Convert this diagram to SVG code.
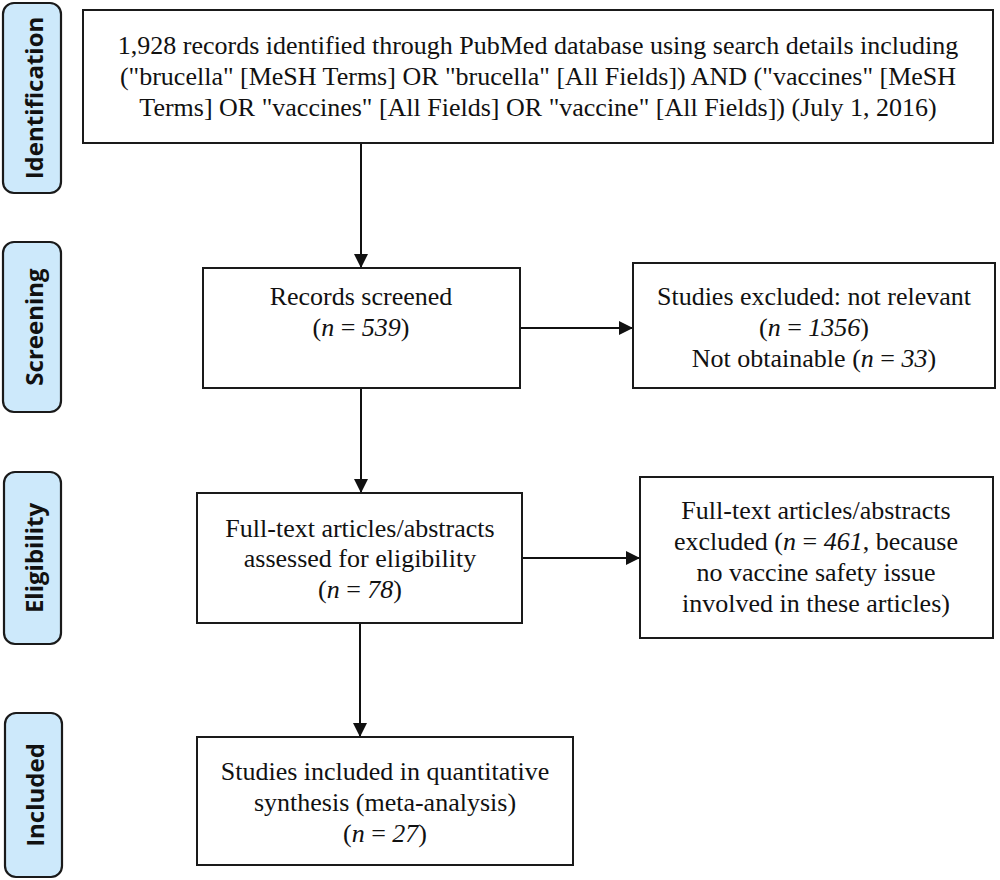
<svg xmlns="http://www.w3.org/2000/svg" width="1000" height="880" viewBox="0 0 1000 880">
<style>
.stage rect{fill:#cde9fb;stroke:#1a1a1a;stroke-width:2.2}
.stage text{font-family:"Open Sans","DejaVu Sans",sans-serif;font-weight:bold;font-size:24px;fill:#111;text-anchor:middle}
.box rect{fill:#fff;stroke:#1a1a1a;stroke-width:2}
.box text{font-family:"Liberation Serif","Times New Roman",serif;font-size:26px;fill:#111;text-anchor:middle}
.i{font-style:italic}
.conn line{stroke:#111;stroke-width:2;fill:none}
</style>
<defs>
<marker id="ah" viewBox="0 0 14 14" refX="14" refY="7" markerWidth="14" markerHeight="14" markerUnits="userSpaceOnUse" orient="auto">
<path d="M0,0 L14,7 L0,14 Z" fill="#111"/>
</marker>
</defs>
<rect width="1000" height="880" fill="#fff"/>

<g id="stage-identification" class="stage">
<rect x="3" y="3" width="58" height="190" rx="11"/>
<text transform="translate(43,98) rotate(-90)">Identification</text>
</g>
<g id="stage-screening" class="stage">
<rect x="3" y="242" width="58" height="170" rx="11"/>
<text transform="translate(43,327) rotate(-90)">Screening</text>
</g>
<g id="stage-eligibility" class="stage">
<rect x="4" y="472" width="57" height="172" rx="11"/>
<text transform="translate(43,558) rotate(-90)">Eligibility</text>
</g>
<g id="stage-included" class="stage">
<rect x="5" y="713" width="57" height="164" rx="11"/>
<text transform="translate(44,795) rotate(-90)">Included</text>
</g>

<g id="conns" class="conn">
<line x1="361" y1="143" x2="361" y2="268" marker-end="url(#ah)"/>
<line x1="520" y1="328" x2="633" y2="328" marker-end="url(#ah)"/>
<line x1="361" y1="388" x2="361" y2="493" marker-end="url(#ah)"/>
<line x1="522" y1="558" x2="640" y2="558" marker-end="url(#ah)"/>
<line x1="360" y1="623" x2="360" y2="737" marker-end="url(#ah)"/>
</g>

<g id="node-identified" class="box">
<rect x="83" y="10" width="910" height="133"/>
<text x="538" y="54">1,928 records identified through PubMed database using search details including</text>
<text x="538" y="85">("brucella" [MeSH Terms] OR "brucella" [All Fields]) AND ("vaccines" [MeSH</text>
<text x="538" y="116">Terms] OR "vaccines" [All Fields] OR "vaccine" [All Fields]) (July 1, 2016)</text>
</g>

<g id="node-screened" class="box">
<rect x="203" y="268" width="317" height="120"/>
<text x="361" y="305">Records screened</text>
<text x="361" y="336">(<tspan class="i">n</tspan> = <tspan class="i">539</tspan>)</text>
</g>

<g id="node-excluded1" class="box">
<rect x="633" y="263" width="362" height="125"/>
<text x="814" y="305">Studies excluded: not relevant</text>
<text x="814" y="336">(<tspan class="i">n</tspan> = <tspan class="i">1356</tspan>)</text>
<text x="814" y="367">Not obtainable (<tspan class="i">n</tspan> = <tspan class="i">33</tspan>)</text>
</g>

<g id="node-eligibility" class="box">
<rect x="197" y="493" width="325" height="130"/>
<text x="360" y="537">Full-text articles/abstracts</text>
<text x="360" y="567">assessed for eligibility</text>
<text x="360" y="598">(<tspan class="i">n</tspan> = <tspan class="i">78</tspan>)</text>
</g>

<g id="node-excluded2" class="box">
<rect x="640" y="477" width="353" height="161"/>
<text x="816" y="519">Full-text articles/abstracts</text>
<text x="816" y="550">excluded (<tspan class="i">n</tspan> = <tspan class="i">461</tspan>, because</text>
<text x="816" y="581">no vaccine safety issue</text>
<text x="816" y="612">involved in these articles)</text>
</g>

<g id="node-included" class="box">
<rect x="197" y="737" width="376" height="128"/>
<text x="385" y="780">Studies included in quantitative</text>
<text x="385" y="811">synthesis (meta-analysis)</text>
<text x="385" y="842">(<tspan class="i">n</tspan> = <tspan class="i">27</tspan>)</text>
</g>
</svg>
